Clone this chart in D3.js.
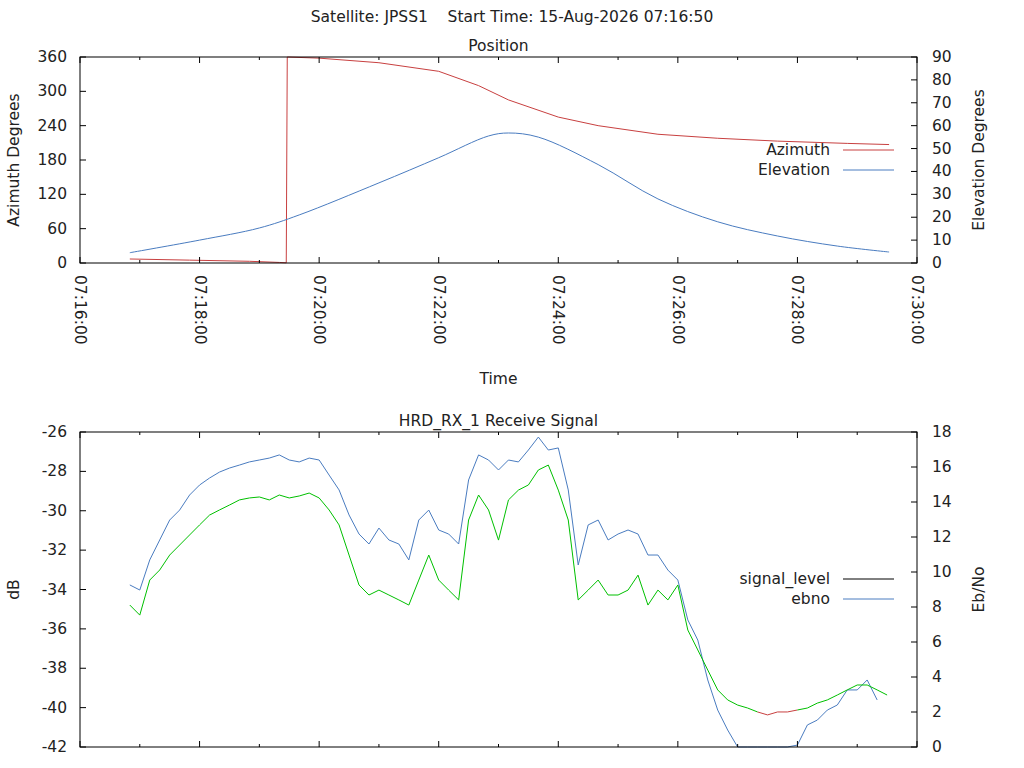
<!DOCTYPE html>
<html><head><meta charset="utf-8">
<script src="https://cdn.jsdelivr.net/npm/d3@7"></script>
<style>body{margin:0;background:#fff}text{font-family:"DejaVu Sans",sans-serif;font-size:15.5px;fill:#222}</style>
</head><body><div id="chart"></div>
<script>
const azTimes = ["07:16:50","07:17:50","07:18:50","07:19:20","07:19:27","07:19:28","07:20:00","07:21:00","07:22:00","07:22:40","07:23:10","07:24:00","07:24:40","07:25:40","07:26:40","07:27:40","07:28:50","07:29:32"];
const azimuth = [7,5,3,1,0.3,360,358,350,335,310,285,255,240,225,218,213,209,207];
const elTimes = ["07:16:50","07:18:00","07:19:00","07:19:40","07:21:00","07:22:00","07:22:50","07:23:10","07:23:40","07:24:40","07:25:40","07:26:40","07:27:40","07:28:40","07:29:32"];
const elevation = [4.5,10,15.3,21,35,46,55.5,56.8,55,43,28,18,11.8,7.4,4.8];

// receive signal, sampled every 10 s starting at 07:16:50
const sigStart = "07:16:50";
const signalLevel = [-34.79,-35.30,-33.52,-33.01,-32.25,-31.74,-31.23,-30.72,-30.22,-29.96,-29.71,-29.45,-29.35,-29.30,-29.45,-29.20,-29.35,-29.25,-29.10,-29.35,-29.96,-30.72,-32.25,-33.77,-34.28,-34.03,-34.28,-34.53,-34.79,-33.52,-32.25,-33.52,-34.03,-34.53,-30.47,-29.20,-29.96,-31.49,-29.45,-28.95,-28.69,-27.93,-27.68,-28.95,-30.47,-34.53,-34.03,-33.52,-34.28,-34.28,-34.03,-33.27,-34.79,-34.03,-34.53,-33.77,-36.06,-37.07,-38.09,-39.10,-39.61,-39.87,-40.02,-40.22,-40.37,-40.22,-40.22,-40.12,-40.02,-39.77,-39.61,-39.36,-39.10,-38.85,-38.85,-39.10,-39.36];
const ebno = [9.26,8.97,10.69,11.83,12.97,13.54,14.40,14.97,15.37,15.71,15.94,16.11,16.29,16.40,16.51,16.69,16.40,16.29,16.51,16.40,15.54,14.69,13.26,12.17,11.60,12.51,11.83,11.60,10.69,12.97,13.54,12.40,12.17,11.60,15.26,16.69,16.40,15.83,16.40,16.29,16.97,17.71,16.97,17.09,14.69,10.40,12.69,12.97,11.83,12.17,12.40,12.17,10.97,10.97,10.11,9.54,7.26,6.11,3.83,2.11,0.97,0,0,0,0,0,0,0.11,1.26,1.54,2.11,2.40,3.26,3.26,3.83,2.69];

const W=1024,H=768;
const pt=d3.timeParse("%H:%M:%S");
const svg=d3.select("#chart").append("svg").attr("width",W).attr("height",H);
const x0=80,x1=917;
const x=d3.scaleTime().domain([pt("07:16:00"),pt("07:30:00")]).range([x0,x1]);
const majT=d3.timeMinute.every(2).range(pt("07:16:00"),pt("07:30:01"));
const minT=d3.timeMinute.every(1).range(pt("07:16:00"),pt("07:30:01"));

svg.append("text").attr("x",512).attr("y",22).attr("text-anchor","middle").style("white-space","pre").text("Satellite: JPSS1    Start Time: 15-Aug-2026 07:16:50");

function frame(top,bot,yl,yr,ylTicks,yrTicks,title,ylab,yrlab,labelX){
  const g=svg.append("g");
  g.append("text").attr("x",(x0+x1)/2).attr("y",top-6).attr("text-anchor","middle").text(title);
  minT.forEach(t=>{const L=majT.some(m=>+m==+t)?6:3;
    g.append("line").attr("x1",x(t)).attr("x2",x(t)).attr("y1",bot).attr("y2",bot-L).attr("stroke","#000");
    g.append("line").attr("x1",x(t)).attr("x2",x(t)).attr("y1",top).attr("y2",top+L).attr("stroke","#000");});
  ylTicks.forEach(v=>{g.append("line").attr("x1",x0).attr("x2",x0+6).attr("y1",yl(v)).attr("y2",yl(v)).attr("stroke","#000");
    g.append("text").attr("x",x0-13).attr("y",yl(v)+5).attr("text-anchor","end").text(v);});
  yrTicks.forEach(v=>{g.append("line").attr("x1",x1).attr("x2",x1-6).attr("y1",yr(v)).attr("y2",yr(v)).attr("stroke","#000");
    g.append("text").attr("x",x1+15).attr("y",yr(v)+5).text(v);});
  g.append("text").attr("transform",`translate(19,${(top+bot)/2}) rotate(-90)`).attr("text-anchor","middle").text(ylab);
  g.append("text").attr("transform",`translate(984,${(top+bot)/2}) rotate(-90)`).attr("text-anchor","middle").text(yrlab);
  if(labelX) majT.forEach(t=>g.append("text").attr("transform",`translate(${x(t)-5},${bot+12}) rotate(90)`).text(d3.timeFormat("%H:%M:%S")(t)));
  return g;
}
function legend(y,label,color){
  svg.append("text").attr("x",830).attr("y",y+5).attr("text-anchor","end").text(label);
  svg.append("line").attr("x1",843).attr("x2",894).attr("y1",y).attr("y2",y).attr("stroke",color);
}
const RED="#c84040",BLUE="#4a7cc0",GREEN="#00c000";

// Position
const t1=57,b1=263;
const az=d3.scaleLinear().domain([0,360]).range([b1,t1]);
const el=d3.scaleLinear().domain([0,90]).range([b1,t1]);
const aT=azTimes.map(pt), eT=elTimes.map(pt);
svg.append("path").attr("d",d3.line().x((d,i)=>x(aT[i])).y(d=>az(d))(azimuth)).attr("fill","none").attr("stroke",RED);
svg.append("path").attr("d",d3.line().x((d,i)=>x(eT[i])).y(d=>el(d)).curve(d3.curveCatmullRom)(elevation)).attr("fill","none").attr("stroke",BLUE);
frame(t1,b1,az,el,d3.range(0,361,60),d3.range(0,91,10),"Position","Azimuth Degrees","Elevation Degrees",true);
svg.append("text").attr("x",(x0+x1)/2).attr("y",384).attr("text-anchor","middle").text("Time");
legend(150,"Azimuth",RED);legend(170,"Elevation",BLUE);
svg.append("rect").attr("x",x0).attr("y",t1).attr("width",x1-x0).attr("height",b1-t1).attr("fill","none").attr("stroke","#000");

// Receive signal
const t2=432,b2=747;
const db=d3.scaleLinear().domain([-42,-26]).range([b2,t2]);
const eb=d3.scaleLinear().domain([0,18]).range([b2,t2]);
const s0=pt(sigStart);
const sT=i=>new Date(+s0+i*10000);
svg.append("path").attr("d",d3.line().x((d,i)=>x(sT(i))).y(d=>eb(d))(ebno)).attr("fill","none").attr("stroke",BLUE);
for(let i=0;i<signalLevel.length-1;i++){
  const low=signalLevel[i]<-40.1&&signalLevel[i+1]<-40.1;
  svg.append("line").attr("x1",x(sT(i))).attr("x2",x(sT(i+1))).attr("y1",db(signalLevel[i])).attr("y2",db(signalLevel[i+1])).attr("stroke",low?RED:GREEN);
}
frame(t2,b2,db,eb,d3.range(-42,-25,2),d3.range(0,19,2),"HRD_RX_1 Receive Signal","dB","Eb/No",false);
legend(579,"signal_level","#000");legend(599,"ebno",BLUE);
svg.append("rect").attr("x",x0).attr("y",t2).attr("width",x1-x0).attr("height",b2-t2).attr("fill","none").attr("stroke","#000");
</script></body></html>
